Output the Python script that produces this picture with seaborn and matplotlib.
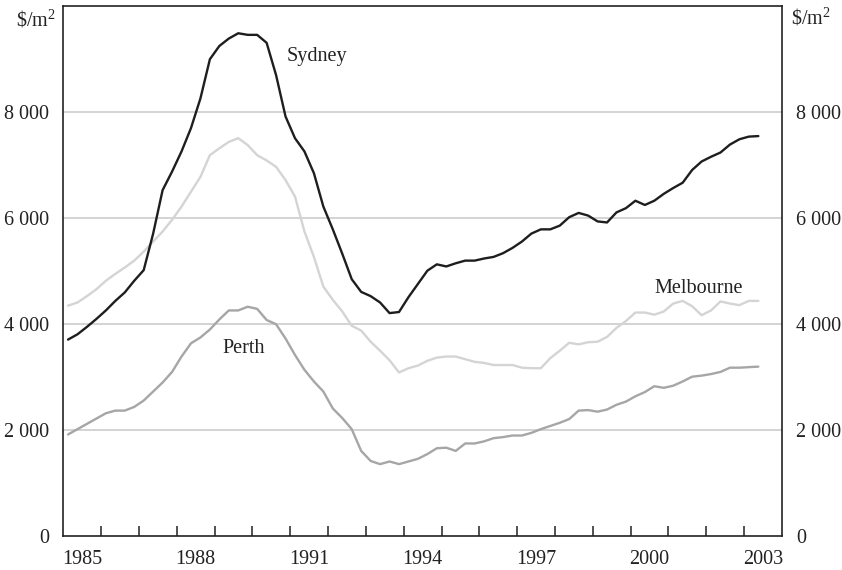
import matplotlib
matplotlib.use('Agg')
import matplotlib.pyplot as plt
import numpy as np
import pandas as pd
import seaborn as sns

# quarterly, 1985 Q1 to 2003 Q2 (plotted at mid-quarter)
quarters = np.arange(74)
sydney = [3700, 3800, 3940, 4090, 4250, 4430, 4590, 4810, 5010, 5700,
          6520, 6870, 7250, 7690, 8250, 8990, 9240, 9380, 9480, 9450,
          9450, 9300, 8690, 7910, 7500, 7250, 6840, 6210, 5780, 5320,
          4840, 4600, 4520, 4400, 4200, 4220, 4500, 4750, 5000, 5120,
          5080, 5140, 5190, 5190, 5230, 5260, 5330, 5430, 5550, 5700,
          5780, 5780, 5850, 6010, 6090, 6040, 5930, 5910, 6100, 6180,
          6320, 6240, 6320, 6450, 6560, 6660, 6900, 7060, 7150, 7230,
          7380, 7480, 7530, 7540]
melbourne = [4340, 4400, 4520, 4650, 4810, 4940, 5060, 5190, 5360, 5550,
             5740, 5960, 6210, 6490, 6770, 7180, 7310, 7430, 7500, 7370,
             7180, 7080, 6960, 6710, 6400, 5740, 5260, 4700, 4450, 4230,
             3960, 3870, 3660, 3490, 3310, 3080, 3160, 3210, 3300, 3360,
             3380, 3380, 3330, 3280, 3260, 3220, 3220, 3220, 3170, 3160,
             3160, 3350, 3490, 3640, 3610, 3650, 3660, 3750, 3920, 4050,
             4210, 4210, 4170, 4230, 4380, 4430, 4330, 4160, 4250, 4420,
             4380, 4350, 4430, 4430]
perth = [1910, 2010, 2110, 2210, 2310, 2360, 2360, 2430, 2550, 2720,
         2890, 3090, 3380, 3630, 3740, 3890, 4080, 4250, 4250, 4320,
         4280, 4070, 3990, 3720, 3410, 3130, 2910, 2720, 2400, 2220,
         2010, 1600, 1410, 1350, 1400, 1350, 1400, 1450, 1540, 1650,
         1660, 1600, 1740, 1740, 1780, 1840, 1860, 1890, 1890, 1940,
         2010, 2070, 2130, 2200, 2360, 2370, 2340, 2380, 2470, 2530,
         2630, 2710, 2820, 2790, 2830, 2910, 3000, 3020, 3050, 3090,
         3170, 3170, 3180, 3190]
label_years = [1985, 1988, 1991, 1994, 1997, 2000, 2003]
y_ticks = [0, 2000, 4000, 6000, 8000]

time = 1985 + 0.125 + 0.25 * quarters
df = pd.DataFrame({
    'time': np.concatenate([time, time, time]),
    'price': sydney + melbourne + perth,
    'city': ['Sydney'] * 74 + ['Melbourne'] * 74 + ['Perth'] * 74,
})

sns.set_style('white')
plt.rcParams['font.family'] = ['Liberation Serif', 'DejaVu Serif']
plt.rcParams['mathtext.default'] = 'regular'

fig = plt.figure(figsize=(8.42, 5.70), dpi=100)
ax = fig.add_axes([0.0752, 0.0602, 0.8535, 0.9298])

for y in y_ticks[1:]:
    ax.axhline(y, color='#c8c8c8', lw=1.1, zorder=1)

palette = {'Melbourne': '#d4d4d4', 'Perth': '#a6a6a6', 'Sydney': '#1e1e1e'}
sns.lineplot(data=df, x='time', y='price', hue='city', palette=palette,
             hue_order=['Melbourne', 'Perth', 'Sydney'], linewidth=1.7,
             legend=False, ax=ax, zorder=3)

ax.set_xlim(1985, 2004)
ax.set_ylim(0, 10000)
ax.set_xlabel('')
ax.set_ylabel('')

ax.set_xticks([yr + 0.5 for yr in label_years])
ax.set_xticklabels([str(yr) for yr in label_years])
ax.set_xticks(np.arange(1986, 2004), minor=True)
ax.tick_params(axis='x', which='major', length=0, pad=10, labelsize=14.5, colors='#222222')
ax.tick_params(axis='x', which='minor', direction='in', length=7, width=1.1,
               color='#222222', bottom=True)

ax.set_yticks(y_ticks)
ax.set_yticklabels([f'{v:,}'.replace(',', ' ') for v in y_ticks])
ax.tick_params(axis='y', length=0, pad=10, labelsize=14.5, colors='#222222',
               left=False, right=False, labelleft=True, labelright=True)

for side in ['left', 'right', 'top', 'bottom']:
    ax.spines[side].set_visible(True)
    ax.spines[side].set_color('#222222')
    ax.spines[side].set_linewidth(1.2)

unit = r'\$/m$^{2}$'
fig.text(36 / 842, 1 - 20 / 570, unit, ha='center', va='center', fontsize=14.5, color='#222222')
fig.text(811 / 842, 1 - 18 / 570, unit, ha='center', va='center', fontsize=14.5, color='#222222')

ax.text(1990.9, 9050, 'Sydney', ha='left', va='center', fontsize=14.5, color='#222222')
ax.text(2000.63, 4655, 'Melbourne', ha='left', va='center', fontsize=14.5, color='#222222')
ax.text(1989.22, 3540, 'Perth', ha='left', va='center', fontsize=14.5, color='#222222')

fig.savefig('out.png', dpi=100)
